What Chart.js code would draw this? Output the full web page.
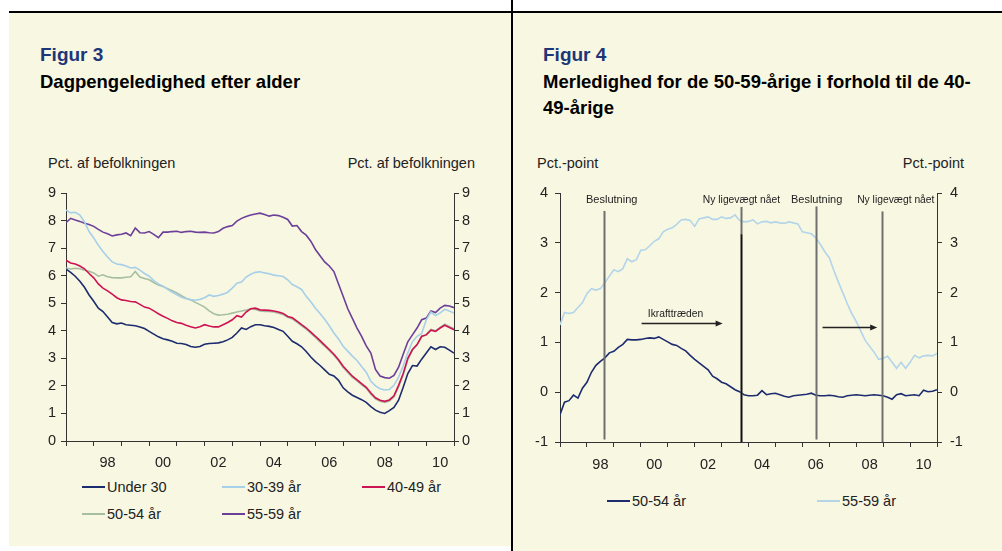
<!DOCTYPE html>
<html>
<head>
<meta charset="utf-8">
<script src="https://cdn.jsdelivr.net/npm/chart.js@4.4.1/dist/chart.umd.min.js"></script>
<style>
  body { margin: 0; width: 1002px; height: 551px; position: relative; overflow: hidden; background: #fff;
    font-family: "Liberation Sans", Arial, sans-serif; color: #222; }
  .panel { position: absolute; background: #f8f7e2; }
  .rule { position: absolute; background: #000; }
  .fig { position: absolute; font-size: 19px; font-weight: bold; line-height: 1; color: #1c3677; }
  .sub { position: absolute; font-size: 18.5px; font-weight: bold; line-height: 26.7px; color: #000; white-space: nowrap; }
  .unit { position: absolute; font-size: 14.5px; line-height: 1; white-space: nowrap; }
  canvas { position: absolute; }
  .leg { position: absolute; font-size: 14.5px; line-height: 16px; white-space: nowrap; }
  .leg i { position: absolute; height: 2px; width: 23px; }
</style>
</head>
<body>
<div class="panel" style="left:9px;top:12px;width:502px;height:534px"></div>
<div class="panel" style="left:513px;top:12px;width:489px;height:539px"></div>
<div class="rule" style="left:9px;top:11px;width:993px;height:1.5px"></div>
<div class="rule" style="left:511px;top:0;width:1.5px;height:551px"></div>

<div class="fig" style="left:40px;top:45px">Figur 3</div>
<div class="sub" style="left:40px;top:68.5px">Dagpengeledighed efter alder</div>
<div class="unit" style="left:48px;top:156px">Pct. af befolkningen</div>
<div class="unit" style="right:527px;top:156px">Pct. af befolkningen</div>

<div class="fig" style="left:543px;top:45px">Figur 4</div>
<div class="sub" style="left:543px;top:68.5px">Merledighed for de 50-59-årige i forhold til de 40-<br>49-årige</div>
<div class="unit" style="left:537px;top:156px">Pct.-point</div>
<div class="unit" style="right:38px;top:156px">Pct.-point</div>

<canvas id="fig3" width="476" height="296" style="left:16px;top:175px;width:476px;height:296px"></canvas>
<canvas id="fig4" width="460" height="297" style="left:515px;top:175px;width:460px;height:297px"></canvas>
<div id="legends"></div>

<script>
// bimonthly observations, Jan 1997 .. Jan 2011
const startYear = 1997;
const stepsPerYear = 6;

const tickYears = [];
for (let y = 1997; y <= 2011; y += 0.5) tickYears.push(y);
const labelYears = [1998.5, 2000.5, 2002.5, 2004.5, 2006.5, 2008.5, 2010.5];
const labelTexts = ['98', '00', '02', '04', '06', '08', '10'];

// Figur 3 - pct. af befolkningen
const under30 = [6.24, 6.12, 5.98, 5.8, 5.58, 5.3, 5.07, 4.82, 4.7, 4.5, 4.3, 4.25,
  4.28, 4.22, 4.2, 4.18, 4.14, 4.08, 3.98, 3.88, 3.78, 3.71, 3.67, 3.62,
  3.55, 3.54, 3.5, 3.43, 3.4, 3.43, 3.51, 3.54, 3.55, 3.56, 3.6, 3.67,
  3.76, 3.92, 4.1, 4.05, 4.15, 4.22, 4.22, 4.18, 4.16, 4.12, 4.05, 3.98,
  3.8, 3.62, 3.53, 3.42, 3.25, 3.05, 2.88, 2.74, 2.58, 2.42, 2.36, 2.2,
  1.93, 1.78, 1.66, 1.58, 1.5, 1.4, 1.25, 1.12, 1.04, 1.0, 1.1, 1.22,
  1.48, 1.95, 2.45, 2.74, 2.72, 2.97, 3.19, 3.42, 3.32, 3.42, 3.4, 3.3, 3.19];
const age3039 = [8.38, 8.28, 8.3, 8.2, 7.95, 7.6, 7.37, 7.1, 6.88, 6.68, 6.5, 6.42,
  6.4, 6.35, 6.28, 6.3, 6.2, 6.08, 5.98, 5.82, 5.7, 5.62, 5.5, 5.4,
  5.31, 5.22, 5.16, 5.13, 5.11, 5.14, 5.2, 5.3, 5.25, 5.28, 5.33, 5.4,
  5.55, 5.73, 5.77, 5.95, 6.05, 6.12, 6.14, 6.1, 6.07, 6.02, 6.0, 5.97,
  5.85, 5.68, 5.6, 5.5, 5.25, 5.05, 4.82, 4.63, 4.42, 4.18, 3.92, 3.7,
  3.44, 3.26, 3.08, 2.92, 2.7, 2.5, 2.17, 2.0, 1.9, 1.85, 1.87, 2.02,
  2.32, 2.72, 3.2, 3.6, 3.8, 3.9, 4.4, 4.68, 4.55, 4.65, 4.78, 4.72, 4.64];
const age4049 = [6.56, 6.46, 6.42, 6.35, 6.25, 6.08, 5.92, 5.7, 5.55, 5.45, 5.33, 5.2,
  5.12, 5.1, 5.06, 5.05, 4.96, 4.86, 4.82, 4.72, 4.62, 4.53, 4.45, 4.36,
  4.3, 4.27, 4.2, 4.15, 4.1, 4.15, 4.22, 4.17, 4.14, 4.14, 4.22, 4.3,
  4.4, 4.55, 4.5, 4.68, 4.8, 4.82, 4.76, 4.75, 4.74, 4.72, 4.68, 4.63,
  4.52, 4.47, 4.35, 4.22, 4.1, 3.95, 3.8, 3.64, 3.48, 3.32, 3.15, 2.95,
  2.71, 2.53, 2.35, 2.22, 2.08, 1.95, 1.74, 1.57, 1.48, 1.44, 1.49, 1.64,
  2.02, 2.45, 3.0, 3.32, 3.5, 3.8, 3.85, 4.02, 3.98, 4.1, 4.2, 4.12, 4.04];
const age5054 = [6.28, 6.24, 6.27, 6.25, 6.2, 6.16, 6.1, 5.98, 6.03, 5.96, 5.93, 5.92,
  5.92, 5.94, 5.96, 6.15, 5.95, 5.9, 5.85, 5.75, 5.66, 5.61, 5.53, 5.45,
  5.37, 5.27, 5.18, 5.12, 5.03, 4.95, 4.86, 4.72, 4.62, 4.57, 4.58, 4.6,
  4.64, 4.68, 4.72, 4.75, 4.8, 4.77, 4.72, 4.7, 4.7, 4.68, 4.64, 4.59,
  4.49, 4.43, 4.31, 4.18, 4.06, 3.91, 3.76, 3.6, 3.44, 3.28, 3.11, 2.91,
  2.67, 2.49, 2.31, 2.18, 2.04, 1.91, 1.7, 1.53, 1.44, 1.4, 1.45, 1.6,
  1.97, 2.4, 2.95, 3.3, 3.48, 3.78, 3.86, 4.05, 4.0, 4.12, 4.24, 4.16, 4.08];
const age5559 = [7.92, 8.08, 8.02, 7.97, 7.9, 7.86, 7.79, 7.68, 7.58, 7.52, 7.44, 7.48,
  7.5, 7.55, 7.45, 7.73, 7.56, 7.55, 7.6, 7.5, 7.38, 7.58, 7.58, 7.6,
  7.61, 7.57, 7.6, 7.61, 7.58, 7.57, 7.58, 7.56, 7.55, 7.6, 7.72, 7.78,
  7.82, 7.98, 8.08, 8.15, 8.2, 8.24, 8.27, 8.22, 8.16, 8.2, 8.18, 8.12,
  8.04, 7.8, 7.82, 7.6, 7.47, 7.25, 6.95, 6.72, 6.5, 6.35, 6.15, 5.7,
  5.25, 4.8, 4.45, 4.1, 3.8, 3.45, 3.19, 2.6, 2.36, 2.3, 2.28, 2.38,
  2.68, 3.15, 3.6, 3.85, 4.1, 4.4, 4.46, 4.72, 4.66, 4.82, 4.92, 4.9, 4.84];

// Figur 4 - pct.-point relativt til 40-49-aarige
const diff5054 = [-0.45, -0.2, -0.17, -0.06, -0.12, 0.08, 0.2, 0.4, 0.54, 0.62, 0.69, 0.79,
  0.82, 0.9, 0.96, 1.06, 1.05, 1.05, 1.06, 1.08, 1.09, 1.08, 1.11, 1.06,
  1.01, 0.96, 0.94, 0.88, 0.83, 0.74, 0.66, 0.59, 0.52, 0.45, 0.32, 0.27,
  0.2, 0.17, 0.11, 0.05, 0.01, -0.05, -0.07, -0.07, -0.06, 0.03, -0.05, -0.03,
  -0.02, -0.05, -0.08, -0.1, -0.07, -0.06, -0.05, -0.04, -0.02, -0.06, -0.07, -0.07,
  -0.06, -0.07, -0.09, -0.1, -0.07, -0.06, -0.05, -0.06, -0.07, -0.06, -0.05, -0.06,
  -0.07, -0.1, -0.14, -0.05, -0.03, -0.07, -0.06, -0.05, -0.07, 0.04, 0.01, 0.02, 0.05];
const diff5559 = [1.35, 1.6, 1.58, 1.6, 1.7, 1.8, 1.98, 2.08, 2.05, 2.08, 2.2, 2.33,
  2.46, 2.42, 2.48, 2.68, 2.62, 2.66, 2.85, 2.86, 2.94, 3.03, 3.08, 3.22,
  3.27, 3.3, 3.37, 3.46, 3.47, 3.45, 3.33, 3.48, 3.5, 3.52, 3.47, 3.47,
  3.52, 3.49, 3.5, 3.56, 3.45, 3.42, 3.43, 3.46, 3.38, 3.42, 3.43, 3.4,
  3.42, 3.4, 3.39, 3.42, 3.4, 3.38, 3.22, 3.2, 3.18, 3.1, 2.97, 2.82,
  2.7, 2.45, 2.22, 2.0, 1.78, 1.58, 1.42, 1.23, 1.04, 0.92, 0.8, 0.66,
  0.68, 0.72, 0.6, 0.48, 0.6, 0.48, 0.6, 0.74, 0.69, 0.73, 0.74, 0.73, 0.78];

// annotations in figur 4
const eventYears = [1998.62, 2003.71, 2006.51, 2008.96];
const eventTops = [3.64, 3.72, 3.73, 3.63];
const eventBottoms = [-0.95, -1, -0.95, -1];
const eventDarkFrom = [null, 3.17, null, null];
const eventLabels = ['Beslutning', 'Ny ligevægt nået', 'Beslutning', 'Ny ligevægt nået'];
const eventLabelYears = [1998.92, 2003.74, 2006.53, 2009.47];
const eventLabelLevel = 3.8;
const arrowFrom = [2000.03, 2006.75];
const arrowTo = [2003.04, 2008.78];
const arrowLevel = [1.39, 1.3];
const arrowText = 'Ikrafttræden';
const arrowTextYear = 2001.29;
const arrowTextLevel = 1.51;

const colors = {
  navy: '#1d2c6e',
  lightblue: '#a6cfe9',
  red: '#cc1452',
  sage: '#a7bfa1',
  purple: '#6c3f98',
  axis: '#333',
};

const fig3Series = [
  { label: 'Under 30', data: under30, color: colors.navy },
  { label: '30-39 år', data: age3039, color: colors.lightblue },
  { label: '40-49 år', data: age4049, color: colors.red },
  { label: '50-54 år', data: age5054, color: colors.sage },
  { label: '55-59 år', data: age5559, color: colors.purple },
];
const fig4Series = [
  { label: '50-54 år', data: diff5054, color: colors.navy },
  { label: '55-59 år', data: diff5559, color: '#b3d5ea' },
];

// legend placement: [lineLeft, centerY]
const fig3LegendPos = [[82, 487], [222, 487], [362, 487], [82, 514], [222, 514]];
const fig4LegendPos = [[607, 501], [817, 501]];

Chart.defaults.font.family = '"Liberation Sans", Arial, sans-serif';
Chart.defaults.color = '#222';

function points(arr) {
  return arr.map((v, i) => ({ x: startYear + i / stepsPerYear, y: v }));
}

function xAxis(pad) {
  return {
    type: 'linear',
    min: 1997,
    max: 2011,
    afterBuildTicks: (s) => { s.ticks = tickYears.map((v) => ({ value: v })); },
    afterFit: (s) => { s.height = 30; },
    ticks: {
      autoSkip: false,
      maxRotation: 0,
      padding: pad,
      font: { size: 14.5 },
      callback: (v) => {
        const i = labelYears.indexOf(v);
        return i >= 0 ? labelTexts[i] : '';
      },
    },
    grid: {
      drawOnChartArea: false,
      tickLength: 5,
      tickColor: (c) => (c.tick && Number.isInteger(c.tick.value) ? colors.axis : 'rgba(0,0,0,0)'),
    },
    border: { color: colors.axis },
  };
}

function yAxis(position, min, max, width, pad) {
  return {
    type: 'linear',
    position,
    min,
    max,
    afterFit: (s) => { s.width = width; },
    ticks: { stepSize: 1, padding: pad, font: { size: 14.5 } },
    grid: { drawOnChartArea: false, tickLength: 5, tickColor: colors.axis },
    border: { color: colors.axis },
  };
}

function datasets(series) {
  return series.map((s) => ({
    label: s.label,
    data: points(s.data),
    borderColor: s.color,
    borderWidth: 1.6,
    pointRadius: 0,
    tension: 0,
    fill: false,
  }));
}

// top padding kept above the y-label overhang so both plots start at y=193
const baseOptions = {
  responsive: false,
  animation: false,
  layout: { padding: { top: 18, left: 0, right: 0, bottom: 0 } },
  plugins: { legend: { display: false }, tooltip: { enabled: false } },
};

new Chart(document.getElementById('fig3'), {
  type: 'line',
  data: { datasets: datasets(fig3Series) },
  options: {
    ...baseOptions,
    scales: {
      x: xAxis(8),
      y: yAxis('left', 0, 9, 50, 5),
      y2: yAxis('right', 0, 9, 38, 3),
    },
  },
});

const eventsPlugin = {
  id: 'events',
  afterDatasetsDraw(chart) {
    const { ctx } = chart;
    const xs = chart.scales.x;
    const ys = chart.scales.y;
    ctx.save();
    eventYears.forEach((yr, i) => {
      const px = Math.round(xs.getPixelForValue(yr)) + 0.5;
      ctx.strokeStyle = '#6f6f6f';
      ctx.lineWidth = 2;
      ctx.beginPath();
      ctx.moveTo(px, ys.getPixelForValue(eventTops[i]));
      ctx.lineTo(px, ys.getPixelForValue(eventBottoms[i]));
      ctx.stroke();
      if (eventDarkFrom[i] !== null) {
        ctx.strokeStyle = '#111';
        ctx.lineWidth = 1.6;
        ctx.beginPath();
        ctx.moveTo(px, ys.getPixelForValue(eventDarkFrom[i]));
        ctx.lineTo(px, ys.getPixelForValue(eventBottoms[i]));
        ctx.stroke();
      }
      ctx.fillStyle = '#222';
      ctx.textAlign = 'center';
      ctx.textBaseline = 'alphabetic';
      ctx.font = (eventLabels[i] === 'Beslutning' ? '11px' : '10.3px') + ' "Liberation Sans", Arial, sans-serif';
      ctx.fillText(eventLabels[i], xs.getPixelForValue(eventLabelYears[i]), ys.getPixelForValue(eventLabelLevel));
    });
    arrowFrom.forEach((a, i) => {
      const x0 = xs.getPixelForValue(a);
      const x1 = xs.getPixelForValue(arrowTo[i]);
      const py = Math.round(ys.getPixelForValue(arrowLevel[i])) + 0.5;
      ctx.strokeStyle = '#222';
      ctx.fillStyle = '#222';
      ctx.lineWidth = 1.3;
      ctx.beginPath();
      ctx.moveTo(x0, py);
      ctx.lineTo(x1 - 6, py);
      ctx.stroke();
      ctx.beginPath();
      ctx.moveTo(x1, py);
      ctx.lineTo(x1 - 7, py - 3);
      ctx.lineTo(x1 - 7, py + 3);
      ctx.closePath();
      ctx.fill();
    });
    ctx.font = '10.3px "Liberation Sans", Arial, sans-serif';
    ctx.textAlign = 'center';
    ctx.fillText(arrowText, xs.getPixelForValue(arrowTextYear), ys.getPixelForValue(arrowTextLevel));
    ctx.restore();
  },
};

new Chart(document.getElementById('fig4'), {
  type: 'line',
  data: { datasets: datasets(fig4Series) },
  options: {
    ...baseOptions,
    scales: {
      x: xAxis(9),
      y: yAxis('left', -1, 4, 45, 7),
      y2: yAxis('right', -1, 4, 38, 8),
    },
  },
  plugins: [eventsPlugin],
});

function legend(series, pos) {
  return series.map((s, i) => {
    const [lx, cy] = pos[i];
    return `<div class="leg" style="left:${lx}px;top:${cy - 8}px;padding-left:25px">` +
      `<i style="left:0;top:7px;background:${s.color}"></i>${s.label}</div>`;
  }).join('');
}
document.getElementById('legends').innerHTML = legend(fig3Series, fig3LegendPos) + legend(fig4Series, fig4LegendPos);
</script>
</body>
</html>
